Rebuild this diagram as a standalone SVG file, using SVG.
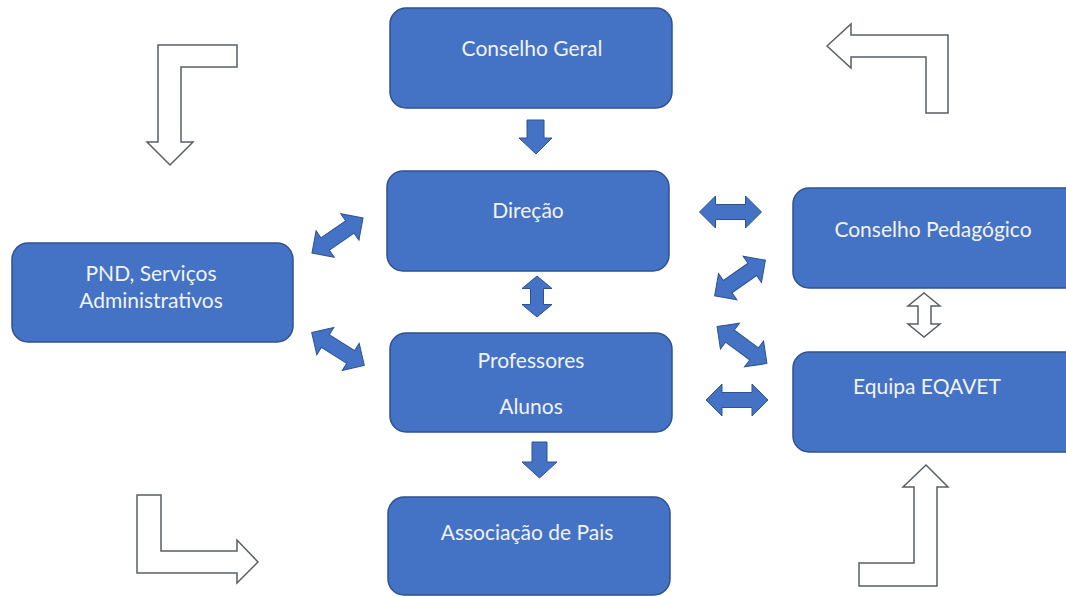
<svg xmlns="http://www.w3.org/2000/svg" width="1066" height="597" viewBox="0 0 1066 597">
<style>
.node rect{fill:#4472C4;stroke:#2F528F;stroke-width:1.5}
.node text{fill:#F2F2F2;font-family:Lato,"Open Sans",sans-serif;font-size:21px;text-anchor:middle}
.blue{fill:#4472C4;stroke:#2F528F;stroke-width:1}
.outline{fill:#FFFFFF;stroke:#5A5F66;stroke-width:1.5;stroke-linejoin:miter}
</style>
<defs>
<path id="dbl" d="M-31,0 L-15,-16 L-15,-7.5 L15,-7.5 L15,-16 L31,0 L15,16 L15,7.5 L-15,7.5 L-15,16 Z"/>
</defs>
<rect width="1066" height="597" fill="#FFFFFF"/>

<g id="connectors">
<polygon class="blue" points="527,120 544,120 544,138 552,138 536,154 519,138 527,138"/>
<polygon class="blue" points="532,442 547,442 547,462 557,462 539.5,478 522,462 532,462"/>
<path class="blue" d="M0,-20.5 L15,-8 L6.5,-8 L6.5,8 L15,8 L0,20.5 L-15,8 L-6.5,8 L-6.5,-8 L-15,-8 Z" transform="translate(537,296.5)"/>
<use href="#dbl" class="blue" transform="translate(337.5,235.5) rotate(-34.5)"/>
<use href="#dbl" class="blue" transform="translate(338,349) rotate(32)"/>
<use href="#dbl" class="blue" transform="translate(730.5,212)"/>
<use href="#dbl" class="blue" transform="translate(740,278) rotate(-35)"/>
<use href="#dbl" class="blue" transform="translate(742,345) rotate(36.5)"/>
<use href="#dbl" class="blue" transform="translate(737,400)"/>
<polygon class="outline" points="158,45 237,45 237,67 181,67 181,142 193,142 170,165 147,142 158,142"/>
<polygon class="outline" points="827,46 851,24 851,35 948,35 948,113 926,113 926,57 851,57 851,68"/>
<polygon class="outline" points="137,495 161,495 161,551 237,551 237,540 258,562 237,583 237,573 137,573"/>
<polygon class="outline" points="926,465 948,487 937,487 937,586 859,586 859,563 914,563 914,487 903,487"/>
<polygon class="outline" points="924,293 940,306 931,306 931,324 940,324 924,337 908,324 918,324 918,306 908,306"/>
</g>

<g id="conselho-geral" class="node">
<rect x="390" y="8" width="282" height="100" rx="16"/>
<text x="532" y="56">Conselho Geral</text>
</g>
<g id="direcao" class="node">
<rect x="387" y="171" width="282" height="100" rx="16"/>
<text x="528" y="218">Direção</text>
</g>
<g id="professores-alunos" class="node">
<rect x="390" y="333" width="282" height="99" rx="16"/>
<text x="531" y="368">Professores</text>
<text x="531" y="414">Alunos</text>
</g>
<g id="associacao-pais" class="node">
<rect x="388" y="497" width="282" height="98" rx="16"/>
<text x="527" y="540">Associação de Pais</text>
</g>
<g id="pnd" class="node">
<rect x="12" y="243" width="281" height="99" rx="16"/>
<text x="151" y="281">PND, Serviços</text>
<text x="151" y="308">Administrativos</text>
</g>
<g id="conselho-pedagogico" class="node">
<rect x="793" y="188" width="290" height="100" rx="16"/>
<text x="933" y="237">Conselho Pedagógico</text>
</g>
<g id="equipa-eqavet" class="node">
<rect x="793" y="352" width="290" height="100" rx="16"/>
<text x="927" y="394">Equipa EQAVET</text>
</g>
</svg>
